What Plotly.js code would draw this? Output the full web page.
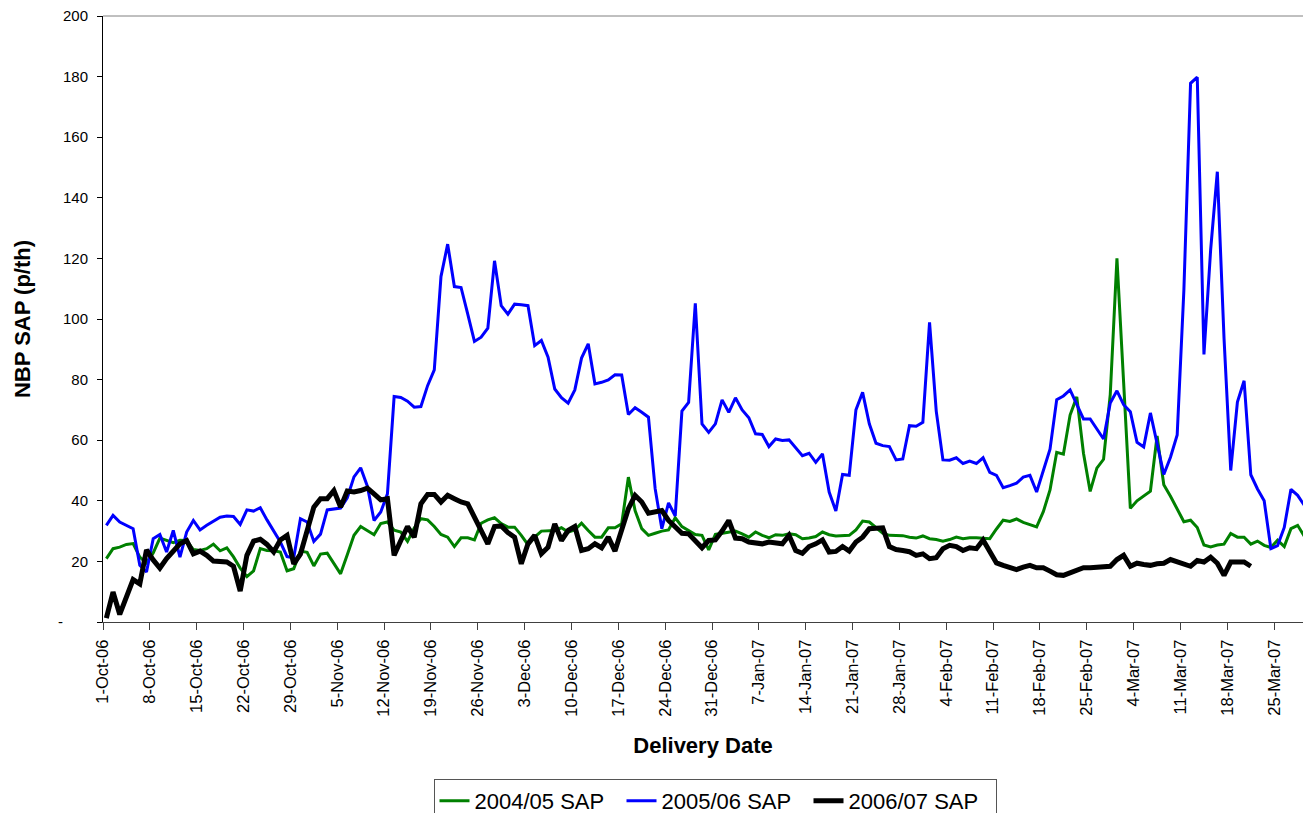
<!DOCTYPE html>
<html>
<head>
<meta charset="utf-8">
<script src="https://cdn.plot.ly/plotly-3.0.1.min.js"></script>
<style>
  html, body { margin: 0; padding: 0; background: #fff; width: 1303px; height: 813px; overflow: hidden; }
  #chart { width: 1303px; height: 830px; }
</style>
</head>
<body>
<div id="chart"></div>
<script>
// Daily delivery dates start on 1-Oct (one value per day)
const startDate = [2006, 10, 1];

// 2004/05 SAP (p/th), one value per day from 1-Oct
const sap0405 = [
  20.9, 24.2, 24.7, 25.6, 25.9, 21.4, 19.5,
  22.8, 27.7, 26.9, 26.2, 27.0, 26.9, 23.9,
  23.6, 24.2, 25.7, 23.5, 24.5, 21.5, 17.8,
  15.0, 16.9, 24.2, 23.6, 23.5, 23.1, 16.9,
  17.6, 23.4, 23.0, 18.5, 22.4, 22.7, 19.5,
  15.9, 22.2, 28.6, 31.5, 30.2, 28.8, 32.5,
  33.0, 30.3, 29.7, 26.6, 31.0, 34.1, 33.7,
  31.5, 28.9, 28.0, 24.9, 27.8, 27.8, 27.1,
  32.6, 33.7, 34.4, 32.5, 31.3, 31.3, 28.6,
  25.5, 28.0, 30.0, 30.0, 30.2, 31.1, 29.7,
  30.4, 32.6, 30.2, 28.0, 28.0, 31.1, 31.1,
  32.4, 47.8, 36.8, 30.8, 28.6, 29.3, 30.0,
  30.4, 34.4, 31.5, 30.2, 28.9, 28.6, 23.8,
  28.9, 29.3, 29.7, 30.0, 29.1, 28.0, 29.7,
  28.6, 27.8, 28.8, 28.6, 29.1, 28.8, 27.5,
  27.7, 28.2, 29.7, 28.8, 28.4, 28.4, 28.6,
  30.4, 33.3, 33.0, 31.3, 29.3, 28.6, 28.6,
  28.5, 28.0, 27.7, 28.4, 27.5, 27.2, 26.7,
  27.2, 28.0, 27.5, 27.8, 27.8, 27.7, 27.5,
  30.7, 33.6, 33.2, 34.0, 32.9, 32.2, 31.4,
  36.4, 43.6, 56.0, 55.4, 68.3, 74.3, 55.7,
  43.1, 50.8, 53.7, 75.0, 120.0, 79.0, 37.5,
  40.0, 41.6, 43.2, 61.4, 45.3, 41.5, 37.3,
  33.1, 33.6, 31.2, 25.4, 24.8, 25.4, 25.7,
  29.2, 28.0, 28.0, 25.7, 26.7, 25.3, 24.6,
  27.0, 24.9, 30.8, 31.9, 28.3
];

// 2005/06 SAP (p/th)
const sap0506 = [
  31.9, 35.2, 33.0, 31.9, 30.8, 18.7, 16.5,
  27.5, 28.9, 23.1, 30.2, 21.4, 29.7, 33.5,
  30.4, 31.9, 33.3, 34.6, 35.0, 34.8, 32.2,
  37.0, 36.6, 37.7, 33.7, 30.0, 26.4, 21.6,
  21.2, 34.1, 33.0, 26.6, 29.0, 37.0, 37.4,
  37.6, 41.0, 47.9, 50.9, 44.8, 33.5, 36.3,
  42.3, 74.4, 74.1, 72.9, 70.9, 71.1, 78.0,
  83.2, 114.0, 124.7, 110.7, 110.4, 101.6, 92.6,
  94.0, 97.0, 119.2, 104.4, 101.6, 104.9, 104.7,
  104.4, 91.2, 92.9, 87.4, 76.9, 74.0, 72.2,
  76.6, 87.1, 91.8, 78.6, 79.1, 79.9, 81.6,
  81.5, 68.5, 70.7, 69.2, 67.6, 44.0, 30.8,
  39.3, 35.0, 69.6, 72.5, 105.2, 65.4, 62.6,
  65.4, 73.3, 69.2, 74.0, 70.0, 67.4, 62.1,
  61.9, 57.9, 60.4, 59.9, 60.1, 57.5, 54.9,
  55.7, 52.7, 55.5, 42.9, 36.6, 48.7, 48.4,
  70.0, 75.8, 65.4, 59.0, 58.2, 57.9, 53.5,
  53.8, 64.8, 64.6, 65.9, 98.9, 69.6, 53.5,
  53.4, 54.2, 52.3, 53.1, 52.3, 54.2, 49.4,
  48.4, 44.3, 45.0, 45.8, 47.8, 48.4, 42.9,
  50.0, 57.0, 73.4, 74.6, 76.6, 71.7, 67.0,
  67.0, 63.7, 60.4, 72.3, 76.3, 71.7, 69.4,
  59.3, 57.8, 69.0, 59.1, 48.7, 54.4, 61.7,
  109.5, 177.8, 179.8, 88.3, 122.8, 148.6, 93.6,
  50.0, 72.6, 79.6, 48.6, 43.9, 40.0, 24.2,
  25.2, 31.2, 43.8, 41.8, 38.5
];

// 2006/07 SAP (p/th)
const sap0607 = [
  1.3, 9.9, 2.5, 8.3, 14.0, 12.6, 23.8,
  20.5, 17.8, 20.9, 23.6, 25.8, 26.9, 22.5,
  23.4, 22.0, 20.1, 20.1, 19.8, 18.4, 10.2,
  22.0, 26.7, 27.3, 25.6, 23.1, 27.1, 28.6,
  19.2, 22.4, 30.0, 37.9, 40.7, 40.7, 43.4,
  37.9, 43.2, 42.9, 43.4, 44.2, 42.3, 40.3,
  40.7, 22.0, 26.9, 31.5, 28.0, 39.0, 42.1,
  42.1, 39.6, 41.8, 40.7, 39.6, 39.0, 34.6,
  30.2, 25.8, 31.5, 31.7, 29.5, 28.0, 19.2,
  25.8, 28.6, 22.5, 24.7, 32.4, 26.9, 30.2,
  31.5, 23.6, 24.2, 25.8, 24.5, 28.0, 23.4,
  31.1, 37.4, 41.8, 39.6, 35.9, 36.3, 36.8,
  33.5, 31.1, 29.3, 29.1, 26.9, 24.5, 26.9,
  27.1, 30.0, 33.5, 27.7, 27.5, 26.4, 26.0,
  25.8, 26.4, 26.0, 25.8, 28.6, 23.6, 22.7,
  24.9, 25.8, 27.1, 23.1, 23.3, 24.9, 23.4,
  26.4, 28.0, 30.8, 30.8, 31.1, 24.9, 23.9,
  23.6, 23.2, 22.0, 22.5, 20.9, 21.2, 24.2,
  25.3, 24.9, 23.6, 24.5, 24.2, 27.1, 23.1,
  19.5, 18.7, 17.9, 17.3, 18.1, 18.7, 17.9,
  17.9, 16.8, 15.6, 15.4, 16.2, 17.3, 17.9,
  17.9, 18.0, 18.1, 18.4, 20.6, 22.0, 18.4,
  19.4, 19.0, 18.7, 19.2, 19.4, 20.6, 20.0,
  19.4, 18.4, 20.3, 19.8, 21.4, 19.4, 15.4,
  19.8, 19.8, 19.8, 18.4
];

const seriesNames = ['2004/05 SAP', '2005/06 SAP', '2006/07 SAP'];
const seriesColors = ['#008000', '#0000FF', '#000000'];

// Y axis ticks (Excel accounting style: zero shown as a dash)
const yTickVals = [0, 20, 40, 60, 80, 100, 120, 140, 160, 180, 200];
const yTickText = ['-\u00a0\u00a0\u00a0\u00a0\u00a0\u00a0', '20', '40', '60', '80', '100', '120', '140', '160', '180', '200'];

function pad(n) { return (n < 10 ? '0' : '') + n; }
function dayDates(n) {
  const out = [];
  for (let i = 0; i < n; i++) {
    const d = new Date(Date.UTC(startDate[0], startDate[1] - 1, startDate[2] + i));
    out.push(d.getUTCFullYear() + '-' + pad(d.getUTCMonth() + 1) + '-' + pad(d.getUTCDate()) + ' 12:00');
  }
  return out;
}

const series = [sap0405, sap0506, sap0607];
const widths = [3, 3, 5];
const traces = series.map((vals, k) => ({
  type: 'scatter',
  mode: 'lines',
  name: seriesNames[k],
  x: dayDates(vals.length),
  y: vals,
  line: { color: seriesColors[k], width: widths[k], shape: 'linear' },
  hoverinfo: 'x+y+name'
}));

const FONT = 'Arial, "Liberation Sans", Helvetica, sans-serif';
const FIG_H = 830;        // figure is taller than the window; bottom of legend box is cut off like the original
const PLOT_BOTTOM = 622;  // px from top

const layout = {
  width: 1303,
  height: FIG_H,
  autosize: false,
  margin: { l: 103, r: 0, t: 16, b: FIG_H - PLOT_BOTTOM, pad: 0 },
  paper_bgcolor: '#ffffff',
  plot_bgcolor: '#ffffff',
  font: { family: FONT, color: '#000000' },
  showlegend: true,
  legend: {
    orientation: 'h',
    x: 0.51, xanchor: 'center',
    y: -0.2591, yanchor: 'top',
    bordercolor: '#555555', borderwidth: 1,
    bgcolor: '#ffffff',
    entrywidth: 142, entrywidthmode: 'pixels',
    font: { family: FONT, size: 22, color: '#000000' },
    traceorder: 'normal'
  },
  xaxis: {
    type: 'date',
    range: ['2006-10-01 00:00', '2007-03-29 07:12'],
    tick0: '2006-10-01',
    dtick: 7 * 86400000,
    tickformat: '%-d-%b-%y',
    tickangle: -90,
    tickfont: { family: FONT, size: 16.5, color: '#000000' },
    ticks: 'outside', ticklen: 7, tickcolor: '#404040', tickwidth: 1,
    ticklabelstandoff: 3,
    showline: true, linecolor: '#404040', linewidth: 1,
    showgrid: false, zeroline: false,
    title: { text: '<b>Delivery Date</b>', font: { family: FONT, size: 22, color: '#000000' }, standoff: 21 },
    automargin: false
  },
  yaxis: {
    range: [0, 200],
    tickmode: 'array',
    tickvals: yTickVals,
    ticktext: yTickText,
    tickfont: { family: FONT, size: 15, color: '#000000' },
    ticks: 'outside', ticklen: 5, tickcolor: '#000000', tickwidth: 1,
    ticklabelstandoff: 6,
    showline: true, linecolor: '#000000', linewidth: 1,
    showgrid: false, zeroline: false,
    title: { text: '<b>NBP SAP (p/th)</b>', font: { family: FONT, size: 22, color: '#000000' }, standoff: 21 },
    automargin: false
  },
  shapes: [{
    type: 'line', xref: 'paper', yref: 'paper',
    x0: 0, x1: 1, y0: 1, y1: 1,
    line: { color: '#808080', width: 1 }
  }]
};

Plotly.newPlot('chart', traces, layout, { displayModeBar: false, staticPlot: true });
</script>
</body>
</html>
